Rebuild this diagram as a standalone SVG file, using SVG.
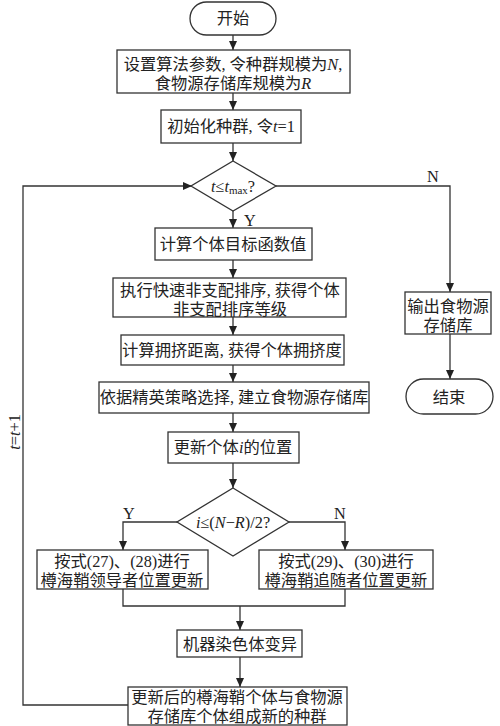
<svg xmlns="http://www.w3.org/2000/svg" width="500" height="726" viewBox="0 0 500 726">
<style>
.b{fill:#fff;stroke:#333;stroke-width:1.3}
.c{fill:none;stroke:#333;stroke-width:1.3}
text{font-family:"Liberation Serif","Noto Sans CJK SC",serif;font-size:16.3px;fill:#222;text-anchor:middle;dominant-baseline:central}
.i{font-style:italic}
</style>
<defs>
<marker id="a" markerWidth="10" markerHeight="10" refX="9" refY="5" orient="auto" markerUnits="userSpaceOnUse">
<path d="M0,1 L9,5 L0,9 Z" fill="#222"/>
</marker>
</defs>
<rect width="500" height="726" fill="#fff"/>
<g id="connectors">
<line class="c" x1="233" y1="35" x2="233" y2="50" marker-end="url(#a)"/>
<line class="c" x1="233" y1="93" x2="233" y2="110" marker-end="url(#a)"/>
<line class="c" x1="233" y1="143" x2="233" y2="161" marker-end="url(#a)"/>
<line class="c" x1="233" y1="211" x2="233" y2="228" marker-end="url(#a)"/>
<line class="c" x1="233" y1="260" x2="233" y2="278" marker-end="url(#a)"/>
<line class="c" x1="233" y1="317" x2="233" y2="335" marker-end="url(#a)"/>
<line class="c" x1="233" y1="365" x2="233" y2="382" marker-end="url(#a)"/>
<line class="c" x1="233" y1="413" x2="233" y2="432" marker-end="url(#a)"/>
<line class="c" x1="233" y1="463" x2="233" y2="488" marker-end="url(#a)"/>
<polyline class="c" points="276,186 450,186 450,292" marker-end="url(#a)"/>
<line class="c" x1="450" y1="334" x2="450" y2="379" marker-end="url(#a)"/>
<polyline class="c" points="177,522 123,522 123,550" marker-end="url(#a)"/>
<polyline class="c" points="289,522 345,522 345,550" marker-end="url(#a)"/>
<polyline class="c" points="123,589 123,606 345,606 345,589"/>
<line class="c" x1="240" y1="606" x2="240" y2="630" marker-end="url(#a)"/>
<line class="c" x1="240" y1="657" x2="240" y2="687" marker-end="url(#a)"/>
<polyline class="c" points="128,705 23,705 23,186 192,186" marker-end="url(#a)"/>
<text x="433" y="176">N</text>
<text x="250" y="220">Y</text>
<text x="129" y="513">Y</text>
<text x="340" y="513">N</text>
<text transform="translate(14,432) rotate(-90)"><tspan class="i">t</tspan>=<tspan class="i">t</tspan>+1</text>
</g>
<g id="start"><rect class="b" x="190" y="2" width="86" height="33" rx="16.5"/><text x="233" y="18.5">开始</text></g>
<g id="params"><rect class="b" x="117" y="50" width="233" height="43"/><text x="233" y="64">设置算法参数, 令种群规模为<tspan class="i">N</tspan>,</text><text x="233" y="83">食物源存储库规模为<tspan class="i">R</tspan></text></g>
<g id="init"><rect class="b" x="161" y="110" width="140" height="33"/><text x="231" y="126">初始化种群, 令<tspan class="i">t</tspan>=1</text></g>
<g id="cond1"><polygon class="b" points="233,161 276,186 233,211 191,186"/><text x="233" y="186"><tspan class="i">t</tspan>≤<tspan class="i">t</tspan><tspan font-size="11" dy="4">max</tspan><tspan dy="-4">?</tspan></text></g>
<g id="obj"><rect class="b" x="155" y="228" width="157" height="32"/><text x="233" y="244">计算个体目标函数值</text></g>
<g id="sort"><rect class="b" x="113" y="278" width="233" height="39"/><text x="230" y="290">执行快速非支配排序, 获得个体</text><text x="230" y="309">非支配排序等级</text></g>
<g id="crowd"><rect class="b" x="121" y="335" width="223" height="30"/><text x="232" y="350">计算拥挤距离, 获得个体拥挤度</text></g>
<g id="elite"><rect class="b" x="99" y="382" width="270" height="31"/><text x="234" y="397">依据精英策略选择, 建立食物源存储库</text></g>
<g id="update"><rect class="b" x="168" y="432" width="131" height="31"/><text x="233" y="447">更新个体<tspan class="i">i</tspan>的位置</text></g>
<g id="cond2"><polygon class="b" points="233,488 289,522 233,556 177,522"/><text x="233" y="522"><tspan class="i">i</tspan>≤(<tspan class="i">N</tspan>−<tspan class="i">R</tspan>)/2?</text></g>
<g id="leader"><rect class="b" x="37" y="550" width="171" height="39"/><text x="122" y="561">按式(27)、(28)进行</text><text x="122" y="580">樽海鞘领导者位置更新</text></g>
<g id="follower"><rect class="b" x="259" y="550" width="174" height="39"/><text x="346" y="561">按式(29)、(30)进行</text><text x="346" y="580">樽海鞘追随者位置更新</text></g>
<g id="mutate"><rect class="b" x="177" y="630" width="125" height="27"/><text x="240" y="644">机器染色体变异</text></g>
<g id="newpop"><rect class="b" x="128" y="687" width="219" height="38"/><text x="237" y="697">更新后的樽海鞘个体与食物源</text><text x="237" y="716">存储库个体组成新的种群</text></g>
<g id="output"><rect class="b" x="405" y="292" width="86" height="42"/><text x="448" y="306">输出食物源</text><text x="448" y="325">存储库</text></g>
<g id="end"><rect class="b" x="406" y="379" width="87" height="35" rx="17.5"/><text x="449" y="397">结束</text></g>
</svg>
